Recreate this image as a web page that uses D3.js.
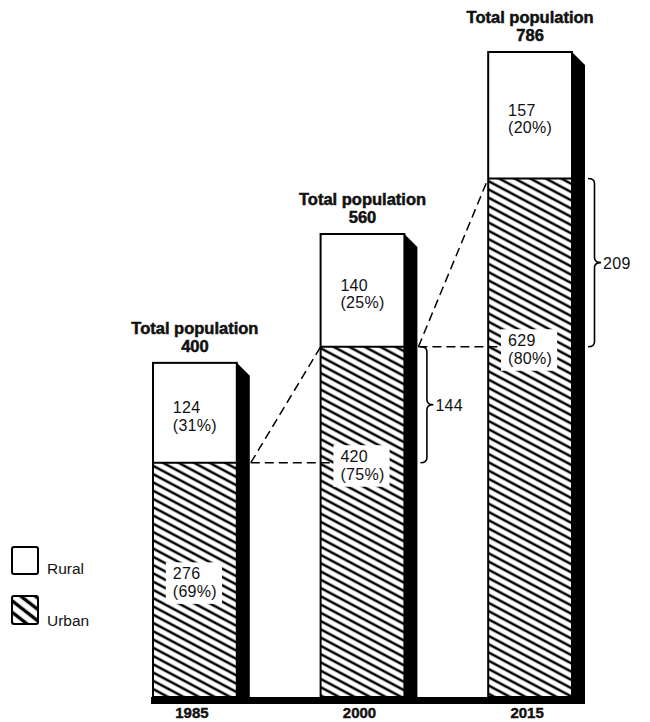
<!DOCTYPE html>
<html>
<head>
<meta charset="utf-8">
<script src="https://cdn.jsdelivr.net/npm/d3@7/dist/d3.min.js"></script>
<style>
  html, body { margin: 0; padding: 0; background: #fff; }
  svg { display: block; }
  text { font-family: "Liberation Sans", Arial, Helvetica, sans-serif; fill: #111; }
</style>
</head>
<body>
<svg id="chart" width="650" height="722"></svg>
<script>
// ---- data ----
const years = ["1985", "2000", "2015"];
const totalPop = [400, 560, 786];
const ruralPop = [124, 140, 157];
const urbanPop = [276, 420, 629];
const ruralPct = ["31%", "25%", "20%"];
const urbanPct = ["69%", "75%", "80%"];
const urbanIncrease = [144, 209];
const legendLabels = ["Rural", "Urban"];
const titleText = "Total population";

// ---- layout ----
const W = 650, H = 722;
const floorY = 697;
const shadowW = 13;
const svg = d3.select("#chart");

const x = d3.scaleBand().domain(years).range([153, 572]).paddingInner(0.5).paddingOuter(0);
const y = d3.scaleLinear().domain([0, 786]).range([685, 52]);
const bw = x.bandwidth();

const defs = svg.append("defs");
const hatch = defs.append("pattern")
  .attr("id", "hatch").attr("patternUnits", "userSpaceOnUse")
  .attr("width", 10).attr("height", 7.3)
  .attr("patternTransform", "rotate(28)");
hatch.append("rect").attr("width", 10).attr("height", 7.3).attr("fill", "#fff");
hatch.append("line").attr("x1", 0).attr("x2", 10).attr("y1", 3.6).attr("y2", 3.6)
  .attr("stroke", "#000").attr("stroke-width", 2.5);

const hatchLeg = defs.append("pattern")
  .attr("id", "hatchLeg").attr("patternUnits", "userSpaceOnUse")
  .attr("width", 10).attr("height", 9)
  .attr("patternTransform", "translate(12,595) rotate(38)");
hatchLeg.append("rect").attr("width", 10).attr("height", 9).attr("fill", "#fff");
hatchLeg.append("line").attr("x1", 0).attr("x2", 10).attr("y1", 4.5).attr("y2", 4.5)
  .attr("stroke", "#000").attr("stroke-width", 3.4);

// floor
svg.append("rect")
  .attr("x", x(years[0]) - 2).attr("y", floorY)
  .attr("width", x(years[2]) + bw + shadowW - x(years[0]) + 2).attr("height", 7)
  .attr("fill", "#000");

const bars = svg.append("g").selectAll("g").data(years).join("g");

// shadow
bars.append("path")
  .attr("d", (d, i) => {
    const xr = x(d) + bw, yt = y(totalPop[i]);
    return `M${xr},${yt}L${xr + shadowW},${yt + shadowW}L${xr + shadowW},${floorY}L${xr},${floorY}Z`;
  })
  .attr("fill", "#000");

// rural part
bars.append("rect")
  .attr("x", d => x(d)).attr("y", (d, i) => y(totalPop[i]))
  .attr("width", bw).attr("height", (d, i) => y(urbanPop[i]) - y(totalPop[i]))
  .attr("fill", "#fff");
// urban part
bars.append("rect")
  .attr("x", d => x(d)).attr("y", (d, i) => y(urbanPop[i]))
  .attr("width", bw).attr("height", (d, i) => floorY - y(urbanPop[i]))
  .attr("fill", "url(#hatch)");
// outline
bars.append("rect")
  .attr("x", d => x(d)).attr("y", (d, i) => y(totalPop[i]))
  .attr("width", bw).attr("height", (d, i) => floorY - y(totalPop[i]))
  .attr("fill", "none").attr("stroke", "#000").attr("stroke-width", 2);
// divider
bars.append("line")
  .attr("x1", d => x(d)).attr("x2", d => x(d) + bw)
  .attr("y1", (d, i) => y(urbanPop[i])).attr("y2", (d, i) => y(urbanPop[i]))
  .attr("stroke", "#000").attr("stroke-width", 2);

// titles
bars.append("text")
  .attr("x", d => x(d) + bw / 2).attr("y", (d, i) => y(totalPop[i]) - 29)
  .attr("text-anchor", "middle").attr("font-size", 16.5).attr("font-weight", "bold")
  .attr("stroke", "#111").attr("stroke-width", 0.5)
  .text(titleText);
bars.append("text")
  .attr("x", d => x(d) + bw / 2).attr("y", (d, i) => y(totalPop[i]) - 11)
  .attr("text-anchor", "middle").attr("font-size", 16.5).attr("font-weight", "bold")
  .attr("stroke", "#111").attr("stroke-width", 0.5)
  .text((d, i) => totalPop[i]);

// year labels
bars.append("text")
  .attr("x", d => x(d) + bw / 2 - 3).attr("y", 718)
  .attr("text-anchor", "middle").attr("font-size", 15).attr("font-weight", "bold")
  .attr("stroke", "#111").attr("stroke-width", 0.4)
  .text(d => d);

// dashed connector lines (drawn before label boxes)
const urbanLevel = (i) => i === 0 ? (y(urbanPop[0]) + floorY) / 2 : y(urbanPop[i - 1]);
const conn = svg.append("g");
for (let i = 0; i < years.length - 1; i++) {
  const xs = x(years[i]) + bw + shadowW + 1;
  const ys = y(urbanPop[i]);
  conn.append("line")
    .attr("x1", xs).attr("y1", ys)
    .attr("x2", x(years[i + 1])).attr("y2", y(urbanPop[i + 1]))
    .attr("stroke", "#000").attr("stroke-width", 1.5).attr("stroke-dasharray", "9,5");
  conn.append("line")
    .attr("x1", xs).attr("y1", ys)
    .attr("x2", x(years[i + 1]) + bw / 2).attr("y2", ys)
    .attr("stroke", "#000").attr("stroke-width", 1.5).attr("stroke-dasharray", "9,5");
}

// value labels
function labelPair(g, cx, yb1, l1, l2, boxed) {
  const grp = g.append("g");
  const t1 = grp.append("text").attr("y", yb1).attr("font-size", 16).attr("letter-spacing", 0.3).text(l1);
  const t2 = grp.append("text").attr("y", yb1 + 17.5).attr("font-size", 16).attr("letter-spacing", 0.3).text(l2);
  const w1 = t1.node().getComputedTextLength();
  const w2 = t2.node().getComputedTextLength();
  const tx = cx - w2 / 2;
  t1.attr("x", tx); t2.attr("x", tx);
  if (boxed) {
    grp.insert("rect", "text")
      .attr("x", tx - 7).attr("y", yb1 - 17)
      .attr("width", Math.max(w1, w2) + 12).attr("height", 17.5 + 24)
      .attr("fill", "#fff");
  }
}
const labels = svg.append("g");
years.forEach((d, i) => {
  const cx = x(d) + bw / 2;
  const mid = (y(totalPop[i]) + y(urbanPop[i])) / 2;
  labelPair(labels, cx, mid + 0.5, String(ruralPop[i]), `(${ruralPct[i]})`, false);
  labelPair(labels, cx, urbanLevel(i) - 0.5, String(urbanPop[i]), `(${urbanPct[i]})`, true);
});

// braces
const braces = svg.append("g");
urbanIncrease.forEach((v, k) => {
  const i = k + 1;
  const bx = x(years[i]) + bw + shadowW + 3;
  const y1 = y(urbanPop[i]), y2 = y(urbanPop[i - 1]);
  const ym = (y1 + y2) / 2, w = 13, h = w / 2, r = 5;
  const p = `M${bx},${y1}Q${bx + h},${y1} ${bx + h},${y1 + r}L${bx + h},${ym - r}Q${bx + h},${ym} ${bx + w},${ym}` +
            `Q${bx + h},${ym} ${bx + h},${ym + r}L${bx + h},${y2 - r}Q${bx + h},${y2} ${bx},${y2}`;
  braces.append("path").attr("d", p).attr("fill", "none").attr("stroke", "#000").attr("stroke-width", 1.6);
  braces.append("text").attr("x", bx + w + 2).attr("y", ym + 6)
    .attr("font-size", 16).attr("letter-spacing", 0.3).text(v);
});

// legend
const leg = svg.append("g");
leg.append("rect").attr("x", 12).attr("y", 547).attr("width", 26).attr("height", 27).attr("rx", 2)
  .attr("fill", "#fff").attr("stroke", "#000").attr("stroke-width", 2);
leg.append("rect").attr("x", 12).attr("y", 596).attr("width", 26).attr("height", 28).attr("rx", 2)
  .attr("fill", "url(#hatchLeg)").attr("stroke", "#000").attr("stroke-width", 2);
leg.selectAll("text.leg").data(legendLabels).join("text")
  .attr("class", "leg")
  .attr("x", 47).attr("y", (d, i) => i === 0 ? 574 : 626)
  .attr("font-size", 15.5).text(d => d);
</script>
</body>
</html>
